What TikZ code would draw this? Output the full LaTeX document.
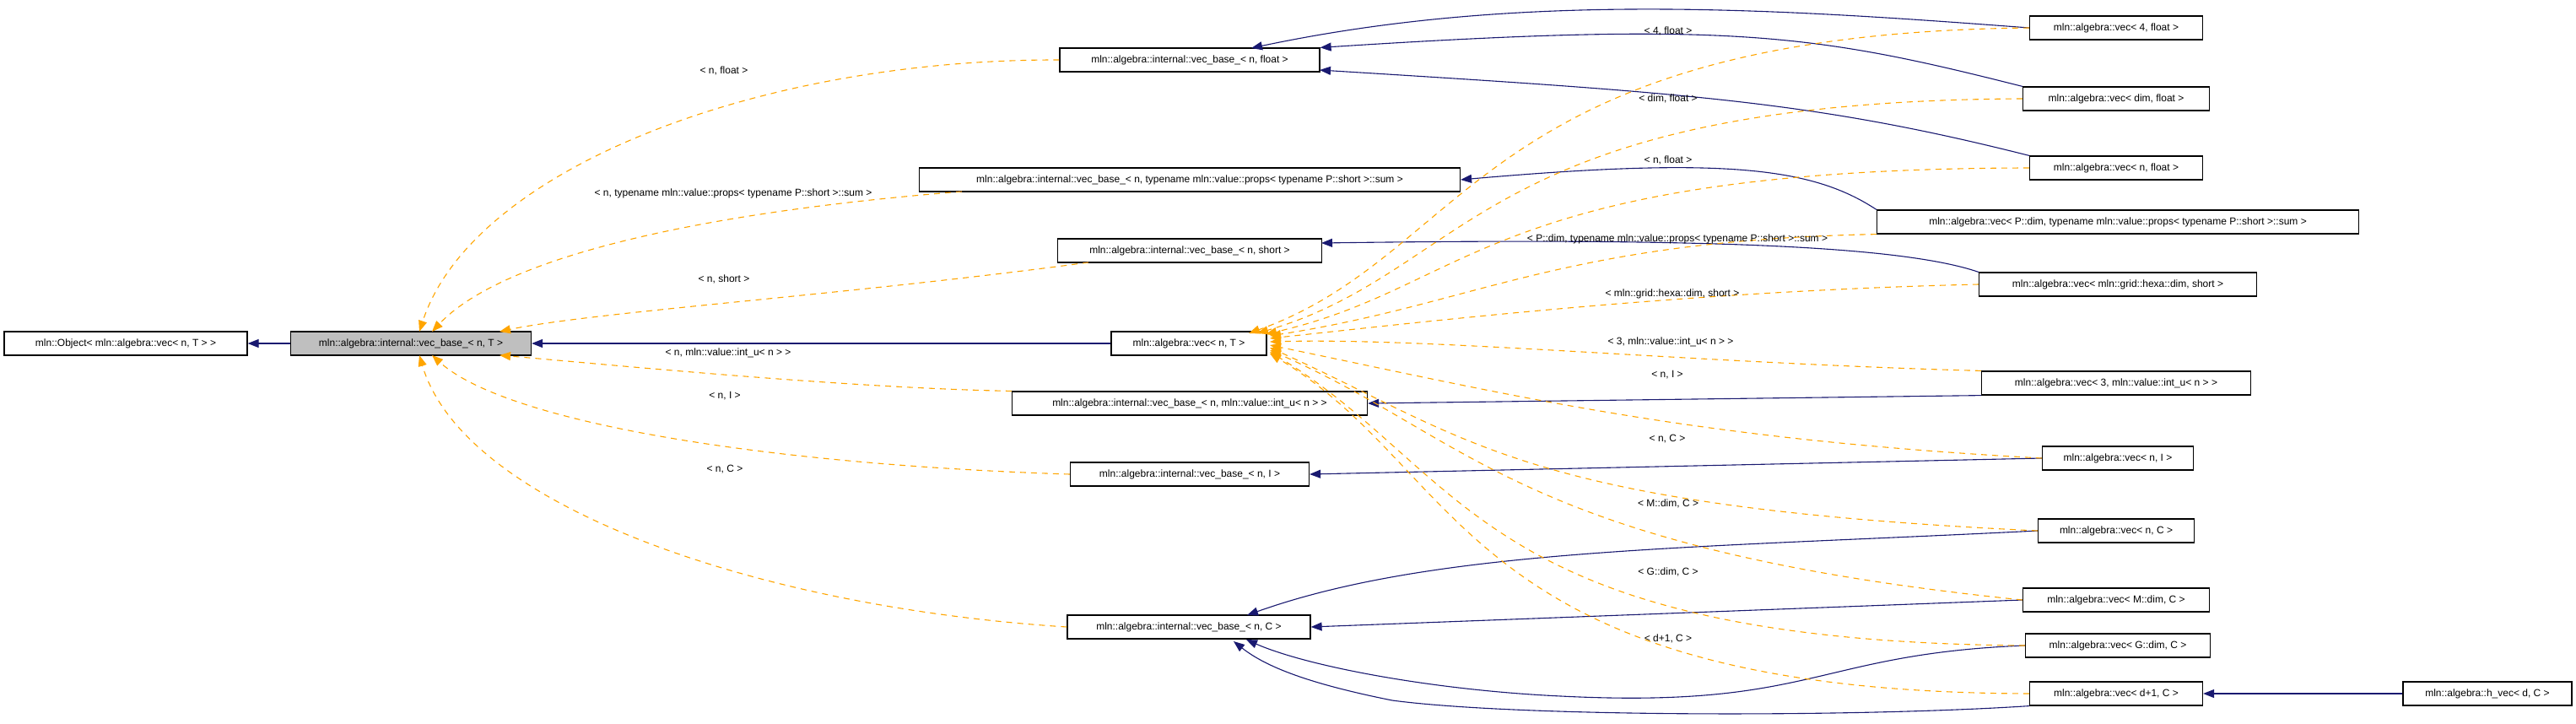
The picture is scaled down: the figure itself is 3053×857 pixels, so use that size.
\documentclass[tikz,border=0pt]{standalone}
\usepackage{fontspec}
\setmainfont{Liberation Sans}
\usetikzlibrary{arrows.meta}
\definecolor{edgeblue}{HTML}{191970}
\definecolor{edgeorange}{HTML}{FFA500}
\tikzset{
  classbox/.style={draw=black, line width=1.2pt, fill=white, minimum height=28pt,
    inner sep=0pt, font=\fontsize{12}{14}\selectfont},
  inherit/.style={draw=edgeblue, line width=1.1pt, -{Triangle[length=13pt,width=10pt]}},
  templ/.style={draw=edgeorange, line width=1.1pt, dashed, dash pattern=on 7pt off 6pt,
    -{Triangle[length=13pt,width=10pt,fill=edgeorange]}},
  tlabel/.style={font=\fontsize{12}{14}\selectfont, inner sep=0pt}
}
\begin{document}
\begin{tikzpicture}[x=1pt, y=-1pt]
  % Canvas size of the reference
  \useasboundingbox (0,0) rectangle (3053,857);

  % Left classes
  \node[classbox, minimum width=288pt] (object) at (149,407) {mln::Object< mln::algebra::vec< n, T > >};
  \node[classbox, minimum width=285pt, fill=black!25] (base) at (487,407) {mln::algebra::internal::vec\_base\_< n, T >};

  % Middle column
  \node[classbox, minimum width=308pt] (vbfloat) at (1410,71) {mln::algebra::internal::vec\_base\_< n, float >};
  \node[classbox, minimum width=641pt] (vbsum) at (1410,213) {mln::algebra::internal::vec\_base\_< n, typename mln::value::props< typename P::short >::sum >};
  \node[classbox, minimum width=313pt] (vbshort) at (1410,297) {mln::algebra::internal::vec\_base\_< n, short >};
  \node[classbox, minimum width=184pt] (vecT) at (1409,407) {mln::algebra::vec< n, T >};
  \node[classbox, minimum width=421pt] (vbintu) at (1410,478) {mln::algebra::internal::vec\_base\_< n, mln::value::int\_u< n > >};
  \node[classbox, minimum width=283pt] (vbI) at (1410,562) {mln::algebra::internal::vec\_base\_< n, I >};
  \node[classbox, minimum width=288pt] (vbC) at (1409,743) {mln::algebra::internal::vec\_base\_< n, C >};

  % Right column
  \node[classbox, minimum width=205pt] (vecfourf) at (2508,33) {mln::algebra::vec< 4, float >};
  \node[classbox, minimum width=221pt] (vecdimf) at (2508,117) {mln::algebra::vec< dim, float >};
  \node[classbox, minimum width=205pt] (vecnf) at (2508,199) {mln::algebra::vec< n, float >};
  \node[classbox, minimum width=571pt] (vecPdim) at (2510,263) {mln::algebra::vec< P::dim, typename mln::value::props< typename P::short >::sum >};
  \node[classbox, minimum width=329pt] (vechexa) at (2510,337) {mln::algebra::vec< mln::grid::hexa::dim, short >};
  \node[classbox, minimum width=319pt] (vecthree) at (2508,454) {mln::algebra::vec< 3, mln::value::int\_u< n > >};
  \node[classbox, minimum width=179pt] (vecnI) at (2510,543) {mln::algebra::vec< n, I >};
  \node[classbox, minimum width=185pt] (vecnC) at (2508,629) {mln::algebra::vec< n, C >};
  \node[classbox, minimum width=221pt] (vecM) at (2508,711) {mln::algebra::vec< M::dim, C >};
  \node[classbox, minimum width=219pt] (vecG) at (2510,765) {mln::algebra::vec< G::dim, C >};
  \node[classbox, minimum width=205pt] (vecdone) at (2508,822) {mln::algebra::vec< d+1, C >};
  \node[classbox, minimum width=200pt] (hvec) at (2948,822) {mln::algebra::h\_vec< d, C >};

  % Plain inheritance
  \draw[inherit] (base) -- (object);
  \draw[inherit] (vecT) -- (base);
  \draw[inherit] (vecfourf.west) .. controls (2100,10) and (1800,-10) .. (1483,57);
  \draw[inherit] (vecdimf.north west) .. controls (2150,40) and (2050,25) .. (vbfloat.north east);
  \draw[inherit] (vecnf.north west) .. controls (2150,120) and (2000,110) .. (1564,83);
  \draw[inherit] (vecPdim.north west) .. controls (2150,200) and (2050,185) .. (vbsum.east);
  \draw[inherit] (vechexa.north west) .. controls (2250,290) and (2000,282) .. (1566,288);
  \draw[inherit] (vecthree.south west) -- (vbintu.east);
  \draw[inherit] (vecnI.west) -- (vbI.east);
  \draw[inherit] (vecnC.west) .. controls (2000,650) and (1700,650) .. (1478,729);
  \draw[inherit] (vecM.west) -- (vbC.east);
  \draw[inherit] (vecG.west) .. controls (2150,775) and (2150,840) .. (1850,825) .. controls (1700,818) and (1550,790) .. (1477,758);
  \draw[inherit] (vecdone.south west) .. controls (2200,850) and (1800,850) .. (1650,830) .. controls (1550,810) and (1500,790) .. (1462,760);
  \draw[inherit] (hvec) -- (vecdone);

  % Template instantiations of vec_base_
  \draw[templ] (vbfloat.west) .. controls (900,70) and (560,200) .. (497,393);
  \draw[templ] (1140,227) .. controls (850,250) and (600,300) .. (512,393);
  \draw[templ] (1290,311) .. controls (1000,350) and (700,370) .. (592,393);
  \draw[templ] (vbintu.north west) .. controls (1000,460) and (700,430) .. (592,421);
  \draw[templ] (vbI.west) .. controls (900,550) and (600,500) .. (512,421);
  \draw[templ] (vbC.west) .. controls (900,720) and (550,600) .. (497,421);

  % Template instantiations of vec
  \draw[templ] (vecfourf.west) .. controls (1750,40) and (1745,300) .. (1480,395);
  \draw[templ] (vecdimf.west) .. controls (1750,120) and (1745,320) .. (1490,395);
  \draw[templ] (vecnf.west) .. controls (1760,200) and (1745,340) .. (1500,396);
  \draw[templ] (vecPdim.south west) .. controls (1850,285) and (1750,360) .. (1505,398);
  \draw[templ] (vechexa.west) .. controls (2000,345) and (1700,380) .. (1505,401);
  \draw[templ] (vecthree.north west) .. controls (2000,430) and (1700,400) .. (1505,405);
  \draw[templ] (vecnI.west) .. controls (2000,520) and (1800,470) .. (1505,409);
  \draw[templ] (vecnC.west) .. controls (1800,600) and (1745,520) .. (1505,412);
  \draw[templ] (vecM.west) .. controls (1800,650) and (1745,520) .. (1505,415);
  \draw[templ] (vecG.west) .. controls (1750,760) and (1740,560) .. (1505,417);
  \draw[templ] (vecdone.west) .. controls (1730,820) and (1740,560) .. (1505,419);

  % Edge labels
  \node[tlabel] (lbfloat) at (858,84) {< n, float >};
  \node[tlabel] (lbsum) at (869,229) {< n, typename mln::value::props< typename P::short >::sum >};
  \node[tlabel] (lbshort) at (858,331) {< n, short >};
  \node[tlabel] (lbintu) at (863,418) {< n, mln::value::int\_u< n > >};
  \node[tlabel] (lbI) at (859,469) {< n, I >};
  \node[tlabel] (lbC) at (859,556) {< n, C >};
  \node[tlabel] (lvfourf) at (1977,37) {< 4, float >};
  \node[tlabel] (lvdimf) at (1977,117) {< dim, float >};
  \node[tlabel] (lvnf) at (1977,190) {< n, float >};
  \node[tlabel] (lvPdim) at (1988,283) {< P::dim, typename mln::value::props< typename P::short >::sum >};
  \node[tlabel] (lvhexa) at (1982,348) {< mln::grid::hexa::dim, short >};
  \node[tlabel] (lvthree) at (1980,405) {< 3, mln::value::int\_u< n > >};
  \node[tlabel] (lvnI) at (1976,444) {< n, I >};
  \node[tlabel] (lvnC) at (1976,520) {< n, C >};
  \node[tlabel] (lvM) at (1977,597) {< M::dim, C >};
  \node[tlabel] (lvG) at (1977,678) {< G::dim, C >};
  \node[tlabel] (lvdone) at (1977,757) {< d+1, C >};
\end{tikzpicture}
\end{document}
